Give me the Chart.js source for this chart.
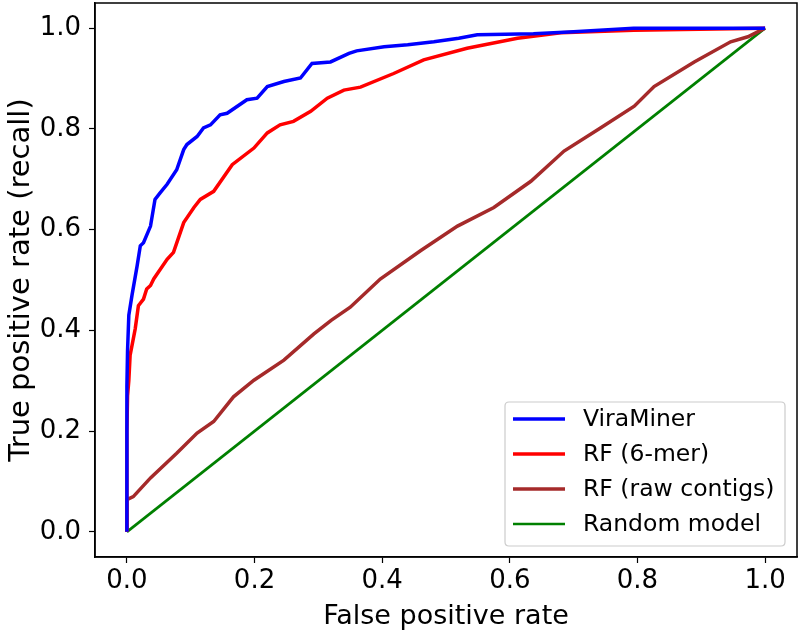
<!DOCTYPE html>
<html>
<head>
<meta charset="utf-8">
<script src="https://cdn.jsdelivr.net/npm/chart.js@4.4.1/dist/chart.umd.min.js"></script>
<style>
  html, body { margin: 0; padding: 0; background: #ffffff; }
  #wrap { width: 800px; height: 636px; }
</style>
</head>
<body>
<div id="wrap"><canvas id="c" width="800" height="636"></canvas></div>
<script>
const seriesLabels = ['ViraMiner', 'RF (6-mer)', 'RF (raw contigs)', 'Random model'];
const seriesColors = ['#0000ff', '#ff0000', '#a52a2a', '#008000'];
const tickValues = [0.0, 0.2, 0.4, 0.6, 0.8, 1.0];

const viraFpr = [0, 0, 0.001, 0.003, 0.008, 0.016, 0.021, 0.026, 0.037, 0.044, 0.052, 0.063, 0.078, 0.089, 0.094, 0.11, 0.12, 0.131, 0.146, 0.157, 0.188, 0.204, 0.22, 0.246, 0.272, 0.29, 0.319, 0.348, 0.36, 0.403, 0.44, 0.481, 0.52, 0.549, 0.637, 0.70, 0.794, 1.0];
const viraTpr = [0, 0.29, 0.36, 0.43, 0.47, 0.528, 0.568, 0.574, 0.607, 0.66, 0.673, 0.69, 0.719, 0.759, 0.769, 0.785, 0.802, 0.808, 0.828, 0.831, 0.858, 0.861, 0.884, 0.894, 0.901, 0.93, 0.933, 0.95, 0.955, 0.963, 0.967, 0.973, 0.98, 0.987, 0.989, 0.993, 1.0, 1.0];

const rf6Fpr = [0, 0, 0.001, 0.003, 0.005, 0.013, 0.018, 0.026, 0.031, 0.037, 0.042, 0.063, 0.073, 0.089, 0.105, 0.115, 0.136, 0.165, 0.199, 0.22, 0.24, 0.261, 0.288, 0.314, 0.34, 0.366, 0.418, 0.465, 0.533, 0.612, 0.68, 0.794, 1.0];
const rf6Tpr = [0, 0.2, 0.27, 0.3, 0.35, 0.403, 0.449, 0.462, 0.482, 0.489, 0.502, 0.541, 0.555, 0.614, 0.644, 0.66, 0.676, 0.729, 0.762, 0.792, 0.808, 0.815, 0.835, 0.861, 0.877, 0.883, 0.91, 0.937, 0.96, 0.98, 0.991, 0.996, 1.0];

const rawFpr = [0, 0, 0.01, 0.037, 0.078, 0.11, 0.136, 0.167, 0.199, 0.246, 0.293, 0.32, 0.35, 0.397, 0.46, 0.518, 0.575, 0.633, 0.685, 0.742, 0.795, 0.826, 0.889, 0.946, 0.973, 1.0];
const rawTpr = [0, 0.064, 0.07, 0.107, 0.156, 0.196, 0.219, 0.268, 0.301, 0.341, 0.393, 0.42, 0.446, 0.502, 0.558, 0.607, 0.644, 0.696, 0.756, 0.802, 0.845, 0.884, 0.933, 0.973, 0.983, 1.0];

const randFpr = [0, 1];
const randTpr = [0, 1];

function pts(xs, ys) { return xs.map((x, i) => ({ x: x, y: ys[i] })); }

const seriesData = [pts(viraFpr, viraTpr), pts(rf6Fpr, rf6Tpr), pts(rawFpr, rawTpr), pts(randFpr, randTpr)];
const seriesWidths = [3.5, 3.5, 3.5, 2.7];

const FONT = 'DejaVu Sans';

const framePlugin = {
  id: 'frame',
  afterDatasetsDraw(chart) {
    const a = chart.chartArea, ctx = chart.ctx;
    ctx.save();
    ctx.strokeStyle = '#000';
    ctx.lineWidth = 1.5;
    ctx.strokeRect(a.left, a.top, a.right - a.left, a.bottom - a.top);
    ctx.restore();
  }
};

const legendPlugin = {
  id: 'insideLegend',
  afterDraw(chart) {
    const a = chart.chartArea, ctx = chart.ctx;
    const w = 280, h = 144;
    const right = a.right - 12, bottom = a.bottom - 11;
    const left = right - w, top = bottom - h;
    ctx.save();
    ctx.beginPath();
    const r = 4;
    ctx.moveTo(left + r, top);
    ctx.lineTo(right - r, top);
    ctx.quadraticCurveTo(right, top, right, top + r);
    ctx.lineTo(right, bottom - r);
    ctx.quadraticCurveTo(right, bottom, right - r, bottom);
    ctx.lineTo(left + r, bottom);
    ctx.quadraticCurveTo(left, bottom, left, bottom - r);
    ctx.lineTo(left, top + r);
    ctx.quadraticCurveTo(left, top, left + r, top);
    ctx.closePath();
    ctx.fillStyle = 'rgba(255,255,255,0.8)';
    ctx.fill();
    ctx.strokeStyle = '#cccccc';
    ctx.lineWidth = 1.2;
    ctx.stroke();
    ctx.font = '23.5px "' + FONT + '"';
    ctx.textBaseline = 'middle';
    ctx.fillStyle = '#000';
    chart.data.datasets.forEach((ds, i) => {
      const cy = top + 17 + i * 35;
      ctx.beginPath();
      ctx.strokeStyle = ds.borderColor;
      ctx.lineWidth = ds.borderWidth;
      ctx.moveTo(left + 8, cy);
      ctx.lineTo(left + 60, cy);
      ctx.stroke();
      ctx.fillText(ds.label, left + 78, cy + 1);
    });
    ctx.restore();
  }
};

const axisCommon = (title, tsize) => ({
  type: 'linear',
  min: -0.05,
  max: 1.05,
  afterBuildTicks(scale) { scale.ticks = tickValues.map(v => ({ value: v })); },
  grid: { display: true, drawOnChartArea: false, drawTicks: true, tickLength: 6, tickWidth: 1.2, tickColor: '#000' },
  border: { display: true, color: '#000', width: 1.5 },
  ticks: {
    color: '#000',
    font: { family: FONT, size: 26 },
    padding: 8,
    maxRotation: 0,
    autoSkip: false,
    callback: (v) => Number(v).toFixed(1)
  },
  title: { display: true, text: title, color: '#000', font: { family: FONT, size: tsize }, padding: 0 }
});

const xAxis = axisCommon('False positive rate', 27);
xAxis.ticks.padding = 3;
xAxis.title.padding = { top: 2, bottom: 3 };
xAxis.afterFit = (scale) => { scale.height = 79; scale.paddingLeft = 0; scale.paddingRight = 0; };
const yAxis = axisCommon('True positive rate (recall)', 29);
yAxis.title.padding = { top: 4, bottom: 4 };
yAxis.afterFit = (scale) => { scale.width = 95; scale.paddingTop = 0; scale.paddingBottom = 0; };

new Chart(document.getElementById('c'), {
  type: 'scatter',
  data: {
    datasets: seriesLabels.map((lab, i) => ({
      label: lab,
      data: seriesData[i],
      showLine: true,
      borderColor: seriesColors[i],
      backgroundColor: seriesColors[i],
      borderWidth: seriesWidths[i],
      pointRadius: 0,
      pointHoverRadius: 0,
      tension: 0,
      fill: false,
      clip: false
    }))
  },
  options: {
    responsive: false,
    animation: false,
    devicePixelRatio: 1,
    layout: { padding: { top: 3, right: 3, left: 0, bottom: 0 } },
    plugins: { legend: { display: false }, tooltip: { enabled: false } },
    scales: { x: xAxis, y: yAxis }
  },
  plugins: [framePlugin, legendPlugin]
});
</script>
</body>
</html>
